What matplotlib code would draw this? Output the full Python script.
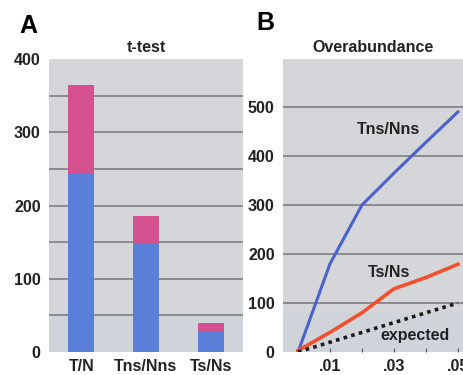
import numpy as np
import matplotlib.pyplot as plt

plt.rcParams['font.family'] = ['Liberation Sans', 'DejaVu Sans']

# panel A data
cats = ['T/N', 'Tns/Nns', 'Ts/Ns']
blue_part = [245, 148, 29]
pink_part = [120, 37, 10]

# panel B data
pvals = [0.0, 0.01, 0.02, 0.03, 0.04, 0.05]
tns_nns = [0, 180, 300, 365, 428, 490]
ts_ns = [3, 40, 80, 129, 152, 179]
expected = [0, 20, 40, 60, 80, 100]

bg = '#d4d6d9'
grid_c = '#7d7f82'
bar_blue = '#5a7fd8'
bar_pink = '#d4508f'
txt = '#222222'

fig = plt.figure(figsize=(4.63, 3.75), dpi=100)
W, H = 463, 375

def px_axes(l, t, r, b):
    return fig.add_axes([l / W, 1 - b / H, (r - l) / W, (b - t) / H])

# ---- panel A ----
ax1 = px_axes(49, 59, 243, 352)
ax1.set_facecolor(bg)
ax1.axhspan(0, 50, color='#cfd4da', zorder=0)
x = np.arange(len(cats))
ax1.bar(x, blue_part, width=0.4, color=bar_blue, zorder=3)
ax1.bar(x, pink_part, width=0.4, bottom=blue_part, color=bar_pink, zorder=3)
ax1.set_xlim(-0.5, 2.5)
ax1.set_ylim(0, 400)
for yv in range(50, 400, 50):
    ax1.axhline(yv, color=grid_c, lw=1.2, zorder=1)
ax1.set_yticks([0, 100, 200, 300, 400])
ax1.set_xticks(x)
ax1.set_xticklabels(cats)
ax1.tick_params(axis='y', length=0, labelsize=11.5, pad=6)
ax1.tick_params(axis='x', length=0, labelsize=11.5, pad=5)
for lab in ax1.get_xticklabels() + ax1.get_yticklabels():
    lab.set_fontweight('bold')
    lab.set_color(txt)
for s in ax1.spines.values():
    s.set_visible(False)
ax1.set_title('t-test', fontsize=11.5, fontweight='bold', pad=5, color=txt)
fig.text(28 / W, 1 - 26 / H, 'A', fontsize=18, fontweight='bold', ha='center', va='center')

# ---- panel B ----
ax2 = px_axes(283, 59, 463, 352)
ax2.set_facecolor(bg)
ax2.axhspan(0, 80, color='#cfd4da', zorder=0)
for yv in range(100, 600, 100):
    ax2.axhline(yv, color=grid_c, lw=1.2, zorder=1)
ax2.plot(pvals, tns_nns, color='#4a62cc', lw=2.2, zorder=3)
ax2.plot(pvals, ts_ns, color='#f0502e', lw=2.6, zorder=3)
ax2.plot(pvals, expected, color='#1a1a1a', lw=2.6, ls=(0, (1, 1.2)), zorder=3)
ax2.set_xlim(-0.0047, 0.0516)
ax2.set_ylim(0, 598)
ax2.set_yticks([0, 100, 200, 300, 400, 500])
ax2.set_xticks([0.01, 0.02, 0.03, 0.04, 0.05])
ax2.set_xticklabels(['.01', '', '.03', '', '.05'])
ax2.tick_params(axis='y', length=0, labelsize=11.5, pad=6)
ax2.tick_params(axis='x', direction='in', length=3, color='#555555', labelsize=11.5, pad=5)
for lab in ax2.get_xticklabels() + ax2.get_yticklabels():
    lab.set_fontweight('bold')
    lab.set_color(txt)
for s in ax2.spines.values():
    s.set_visible(False)
ax2.set_title('Overabundance', fontsize=11.5, fontweight='bold', pad=5, color=txt, x=0.5)
ax2.text(0.0282, 455, 'Tns/Nns', fontsize=11.5, fontweight='bold', ha='center', va='center', color=txt)
ax2.text(0.0285, 162, 'Ts/Ns', fontsize=11.5, fontweight='bold', ha='center', va='center', color=txt)
ax2.text(0.0367, 33, 'expected', fontsize=11.5, fontweight='bold', ha='center', va='center', color=txt)
fig.text(265 / W, 1 - 23 / H, 'B', fontsize=18, fontweight='bold', ha='center', va='center')

fig.savefig('out.png', dpi=100, facecolor='white')
